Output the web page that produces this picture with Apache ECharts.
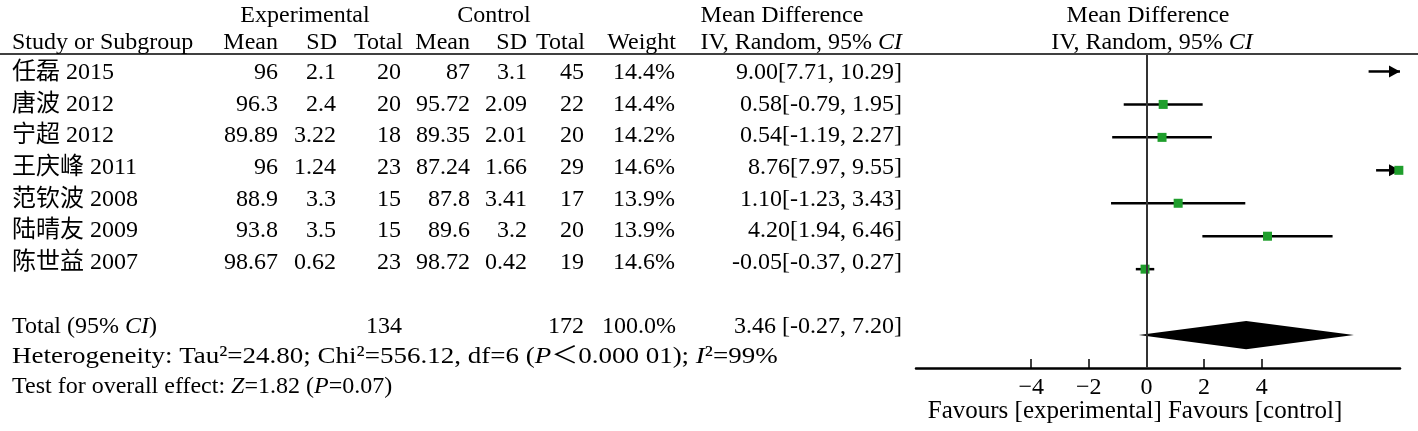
<!DOCTYPE html>
<html><head><meta charset="utf-8">
<script src="https://cdn.jsdelivr.net/npm/echarts@6/dist/echarts.min.js"></script>
<style>html,body{margin:0;padding:0;background:#fff}#c{width:1418px;height:431px}</style>
</head><body><div id="c"></div>
<script>
// ---- data ----
const studies = ['任磊 2015','唐波 2012','宁超 2012','王庆峰 2011','范钦波 2008','陆晴友 2009','陈世益 2007'];
const expMean = ['96','96.3','89.89','96','88.9','93.8','98.67'];
const expSD = ['2.1','2.4','3.22','1.24','3.3','3.5','0.62'];
const expN = [20,20,18,23,15,15,23];
const ctlMean = ['87','95.72','89.35','87.24','87.8','89.6','98.72'];
const ctlSD = ['3.1','2.09','2.01','1.66','3.41','3.2','0.42'];
const ctlN = [45,22,20,29,17,20,19];
const weights = ['14.4%','14.4%','14.2%','14.6%','13.9%','13.9%','14.6%'];
const md = [9.00,0.58,0.54,8.76,1.10,4.20,-0.05];
const ciLow = [7.71,-0.79,-1.19,7.97,-1.23,1.94,-0.37];
const ciHigh = [10.29,1.95,2.27,9.55,3.43,6.46,0.27];
const totalExpN = 134, totalCtlN = 172, totalWeight = '100.0%';
const totalMD = 3.46, totalLow = -0.27, totalHigh = 7.20;
const xTicks = [-4,-2,0,2,4];
const XMIN = -8, XMAX = 8.8;
const TOTAL_ROW = 8;

const FONT = "'Liberation Serif','Times New Roman','Noto Sans CJK SC',serif";
const FS = 24;
const GREEN = '#1f9e2c';

const chart = echarts.init(document.getElementById('c'), null, {renderer:'canvas'});

const studyData = md.map((m,i)=>[m, ciLow[i], ciHigh[i], i]);

chart.setOption({
  animation:false,
  backgroundColor:'#fff',
  grid:{left:916, right:18, top:55, bottom:63},
  xAxis:{type:'value', min:XMIN, max:XMAX, position:'bottom',
    axisLine:{show:true, onZero:false, lineStyle:{color:'#000', width:2.5}},
    axisTick:{show:true, inside:true, length:9, customValues:xTicks, lineStyle:{color:'#000', width:1.5}},
    axisLabel:{show:true, customValues:xTicks, margin:8, color:'#000', fontFamily:FONT, fontSize:FS,
      formatter:v=> v<0 ? '\u2212'+Math.abs(v) : String(v)},
    splitLine:{show:false}},
  yAxis:{type:'value', inverse:true, min:-0.5, max:9, show:false},
  series:[
    {type:'custom', coordinateSystem:'cartesian2d', data:studyData, clip:false,
     renderItem:(params, api)=>{
       const y = api.value(3);
       const lo = Math.max(api.value(1), XMIN), hi = Math.min(api.value(2), XMAX);
       const p1 = api.coord([lo,y]), p2 = api.coord([hi,y]);
       const children = [{type:'line', shape:{x1:p1[0],y1:p1[1],x2:p2[0],y2:p2[1]}, style:{stroke:'#000', lineWidth:2.5}}];
       const est = api.value(0);
       if (api.value(2) > XMAX) {
         children.push({type:'polygon', shape:{points:[[p2[0],p2[1]],[p2[0]-11,p2[1]-6],[p2[0]-11,p2[1]+6]]}, style:{fill:'#000'}});
       }
       if (est >= XMIN && est <= XMAX) {
         const c = api.coord([est,y]); const s = 9;
         children.push({type:'rect', shape:{x:c[0]-s/2, y:c[1]-s/2, width:s, height:s}, style:{fill:GREEN}});
       }
       return {type:'group', children};
     },
     markLine:{silent:true, symbol:'none', label:{show:false}, lineStyle:{color:'#333', width:2, type:'solid'},
       data:[{xAxis:0}]}
    },
    {type:'custom', coordinateSystem:'cartesian2d', data:[[totalMD,totalLow,totalHigh,TOTAL_ROW]],
     renderItem:(params, api)=>{
       const y = api.value(3);
       const h = 0.43;
       const L = api.coord([api.value(1),y]), R = api.coord([api.value(2),y]);
       const T = api.coord([api.value(0),y-h]), B = api.coord([api.value(0),y+h]);
       return {type:'polygon', shape:{points:[L,T,R,B]}, style:{fill:'#000'}};
     }}
  ]
});

// ---- table text ----
const textRowY = i => 73 + 31.6*i;
const g = [];
function txt(text, x, y, align, extra, fs){
  g.push(Object.assign({type:'text', x, y, style:{text, fill:'#000', font:(fs||FS)+'px '+FONT, align:align||'left', verticalAlign:'middle'}}, extra||{}));
}
const rich = {
  n:{fontFamily:FONT, fontSize:FS, fill:'#000'},
  i:{fontFamily:FONT, fontSize:FS, fontStyle:'italic', fill:'#000'}
};
function rtxt(text, x, y, align, extra){
  g.push(Object.assign({type:'text', x, y, style:{text, rich, fill:'#000', fontFamily:FONT, fontSize:FS, align:align||'left', verticalAlign:'middle'}}, extra||{}));
}
// header
txt('Experimental', 305, 16, 'center');
txt('Control', 494, 16, 'center');
txt('Mean Difference', 782, 16, 'center');
txt('Study or Subgroup', 12, 43, 'left');
txt('Mean', 278, 43, 'right');
txt('SD', 337, 43, 'right');
txt('Total', 403, 43, 'right');
txt('Mean', 470, 43, 'right');
txt('SD', 527, 43, 'right');
txt('Total', 585, 43, 'right');
txt('Weight', 676, 43, 'right');
rtxt('{n|IV, Random, 95% }{i|CI}', 902, 43, 'right');
txt('Mean Difference', 1148, 16, 'center');
rtxt('{n|IV, Random, 95% }{i|CI}', 1152, 43, 'center');
g.push({type:'line', shape:{x1:0,y1:54,x2:1418,y2:54}, style:{stroke:'#000', lineWidth:1.5}});

studies.forEach((s,i)=>{
  const y = textRowY(i);
  txt(s, 12, y, 'left');
  txt(expMean[i], 278, y, 'right');
  txt(expSD[i], 336, y, 'right');
  txt(String(expN[i]), 401, y, 'right');
  txt(ctlMean[i], 470, y, 'right');
  txt(ctlSD[i], 527, y, 'right');
  txt(String(ctlN[i]), 584, y, 'right');
  txt(weights[i], 675, y, 'right');
  txt(md[i].toFixed(2)+'['+ciLow[i].toFixed(2)+', '+ciHigh[i].toFixed(2)+']', 902, y, 'right');
});
const ty = 327;
rtxt('{n|Total (95% }{i|CI}{n|)}', 12, ty, 'left');
txt(String(totalExpN), 402, ty, 'right');
txt(String(totalCtlN), 584, ty, 'right');
txt(totalWeight, 676, ty, 'right');
txt(totalMD.toFixed(2)+' ['+totalLow.toFixed(2)+', '+totalHigh.toFixed(2)+']', 902, ty, 'right');
rtxt('{n|Heterogeneity: Tau²=24.80; Chi²=556.12, df=6 (}{i|P}{n|＜0.000 01); }{i|I}{n|²=99%}', 12, 357, 'left', {scaleX:1.125});
rtxt('{n|Test for overall effect: }{i|Z}{n|=1.82 (}{i|P}{n|=0.07)}', 12, 387, 'left');
txt('Favours [experimental] Favours [control]', 1135, 411, 'center', null, 25);

chart.setOption({graphic:g});
</script></body></html>
